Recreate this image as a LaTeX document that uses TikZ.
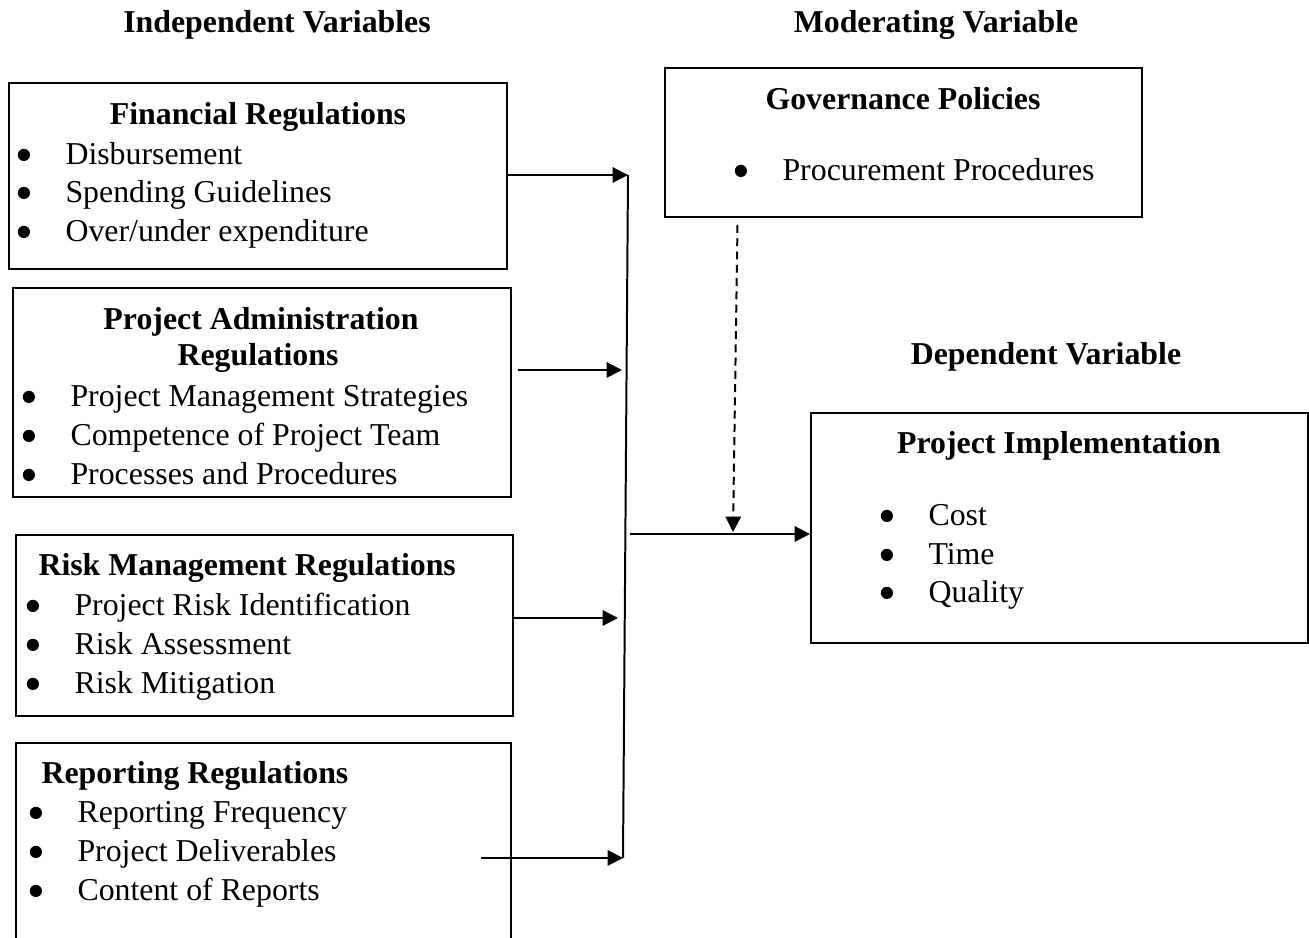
\documentclass[tikz,border=0pt]{standalone}
\usepackage{fontspec}
\setmainfont{Liberation Serif}
\usetikzlibrary{arrows.meta,fit,calc}

\begin{document}
\begin{tikzpicture}[x=0.377pt,y=-0.377pt,
    font=\fontsize{12}{14}\selectfont,
    box/.style={draw,line width=0.75pt,inner sep=0pt},
    head/.style={font=\fontsize{12}{14}\selectfont\bfseries,anchor=base,inner sep=0pt},
    lhead/.style={head,anchor=base west},
    item/.style={anchor=base west,inner sep=0pt},
    arr/.style={line width=0.75pt,-{Triangle[length=5.8pt,width=5.8pt]}},
    bus/.style={line width=0.75pt}]

    \useasboundingbox (0,0) rectangle (1309,938);
    \clip (0,0) rectangle (1309,938);

    % headings
    \node[head] (indep) at (277,33) {Independent Variables};
    \node[head] (moder) at (936,33) {Moderating Variable};
    \node[head] (dep) at (1046,365) {Dependent Variable};

    % boxes
    \node[box,fit={(9,83) (507,269)}] (fin) {};
    \node[box,fit={(13,288) (511,497)}] (adm) {};
    \node[box,fit={(16,535) (513,716)}] (risk) {};
    \node[box,fit={(16,743) (511,960)}] (rep) {};
    \node[box,fit={(665,68) (1142,217)}] (gov) {};
    \node[box,fit={(811,413) (1308,643)}] (impl) {};

    % financial regulations
    \node[head] (fin-t) at (258,125) {Financial Regulations};
    \node[item] (fin-1) at (65,165) {Disbursement};
    \node[item] (fin-2) at (65,203) {Spending Guidelines};
    \node[item] (fin-3) at (65,242) {Over/under expenditure};

    % project administration regulations
    \node[head] (adm-t) at (261,330) {Project Administration};
    \node[head] (adm-t2) at (258,366) {Regulations};
    \node[item] (adm-1) at (70,407) {Project Management Strategies};
    \node[item] (adm-2) at (70,446) {Competence of Project Team};
    \node[item] (adm-3) at (70,485) {Processes and Procedures};

    % risk management regulations
    \node[lhead] (risk-t) at (38,576) {Risk Management Regulations};
    \node[item] (risk-1) at (74,616) {Project Risk Identification};
    \node[item] (risk-2) at (74,655) {Risk Assessment};
    \node[item] (risk-3) at (74,694) {Risk Mitigation};

    % reporting regulations
    \node[lhead] (rep-t) at (41,784) {Reporting Regulations};
    \node[item] (rep-1) at (77,823) {Reporting Frequency};
    \node[item] (rep-2) at (77,862) {Project Deliverables};
    \node[item] (rep-3) at (77,901) {Content of Reports};

    % governance policies
    \node[head] (gov-t) at (903,110) {Governance Policies};
    \node[item] (gov-1) at (782,181) {Procurement Procedures};

    % project implementation
    \node[head] (impl-t) at (1059,454) {Project Implementation};
    \node[item] (impl-1) at (928,526) {Cost};
    \node[item] (impl-2) at (928,565) {Time};
    \node[item] (impl-3) at (928,603) {Quality};

    % bullets
    \foreach \n in {fin-1,fin-2,fin-3,adm-1,adm-2,adm-3,risk-1,risk-2,risk-3,
                    rep-1,rep-2,rep-3,gov-1,impl-1,impl-2,impl-3}
        \fill ([xshift=-15.5pt,yshift=3.8pt]\n.base west) circle (2.3pt);

    % junctions on the collecting line
    \coordinate (j1) at (628,175);
    \coordinate (j2) at (622,370);
    \coordinate (j3) at (618,618);
    \coordinate (j4) at (623,858);
    \coordinate (hub) at (630,534);
    \coordinate (mod) at (733,532);

    % edges
    \draw[arr] (fin.east |- j1) -- (j1); % fin -> bus
    \draw[arr,shorten <=2.3pt] (adm.east |- j2) -- (j2); % adm -> bus
    \draw[arr] (risk.east |- j3) -- (j3); % risk -> bus
    \draw[arr] ($(rep.east |- j4)+(-31,0)$) -- (j4); % rep -> bus
    \draw[bus] (j1) -- (j4); % collecting line
    \draw[arr] (hub) -- (impl.west |- hub); % bus -> impl
    \draw[arr,dash pattern=on 3pt off 2pt] ($(gov.south)+(-166,7)$) -- (mod); % gov -> edge

\end{tikzpicture}
\end{document}
